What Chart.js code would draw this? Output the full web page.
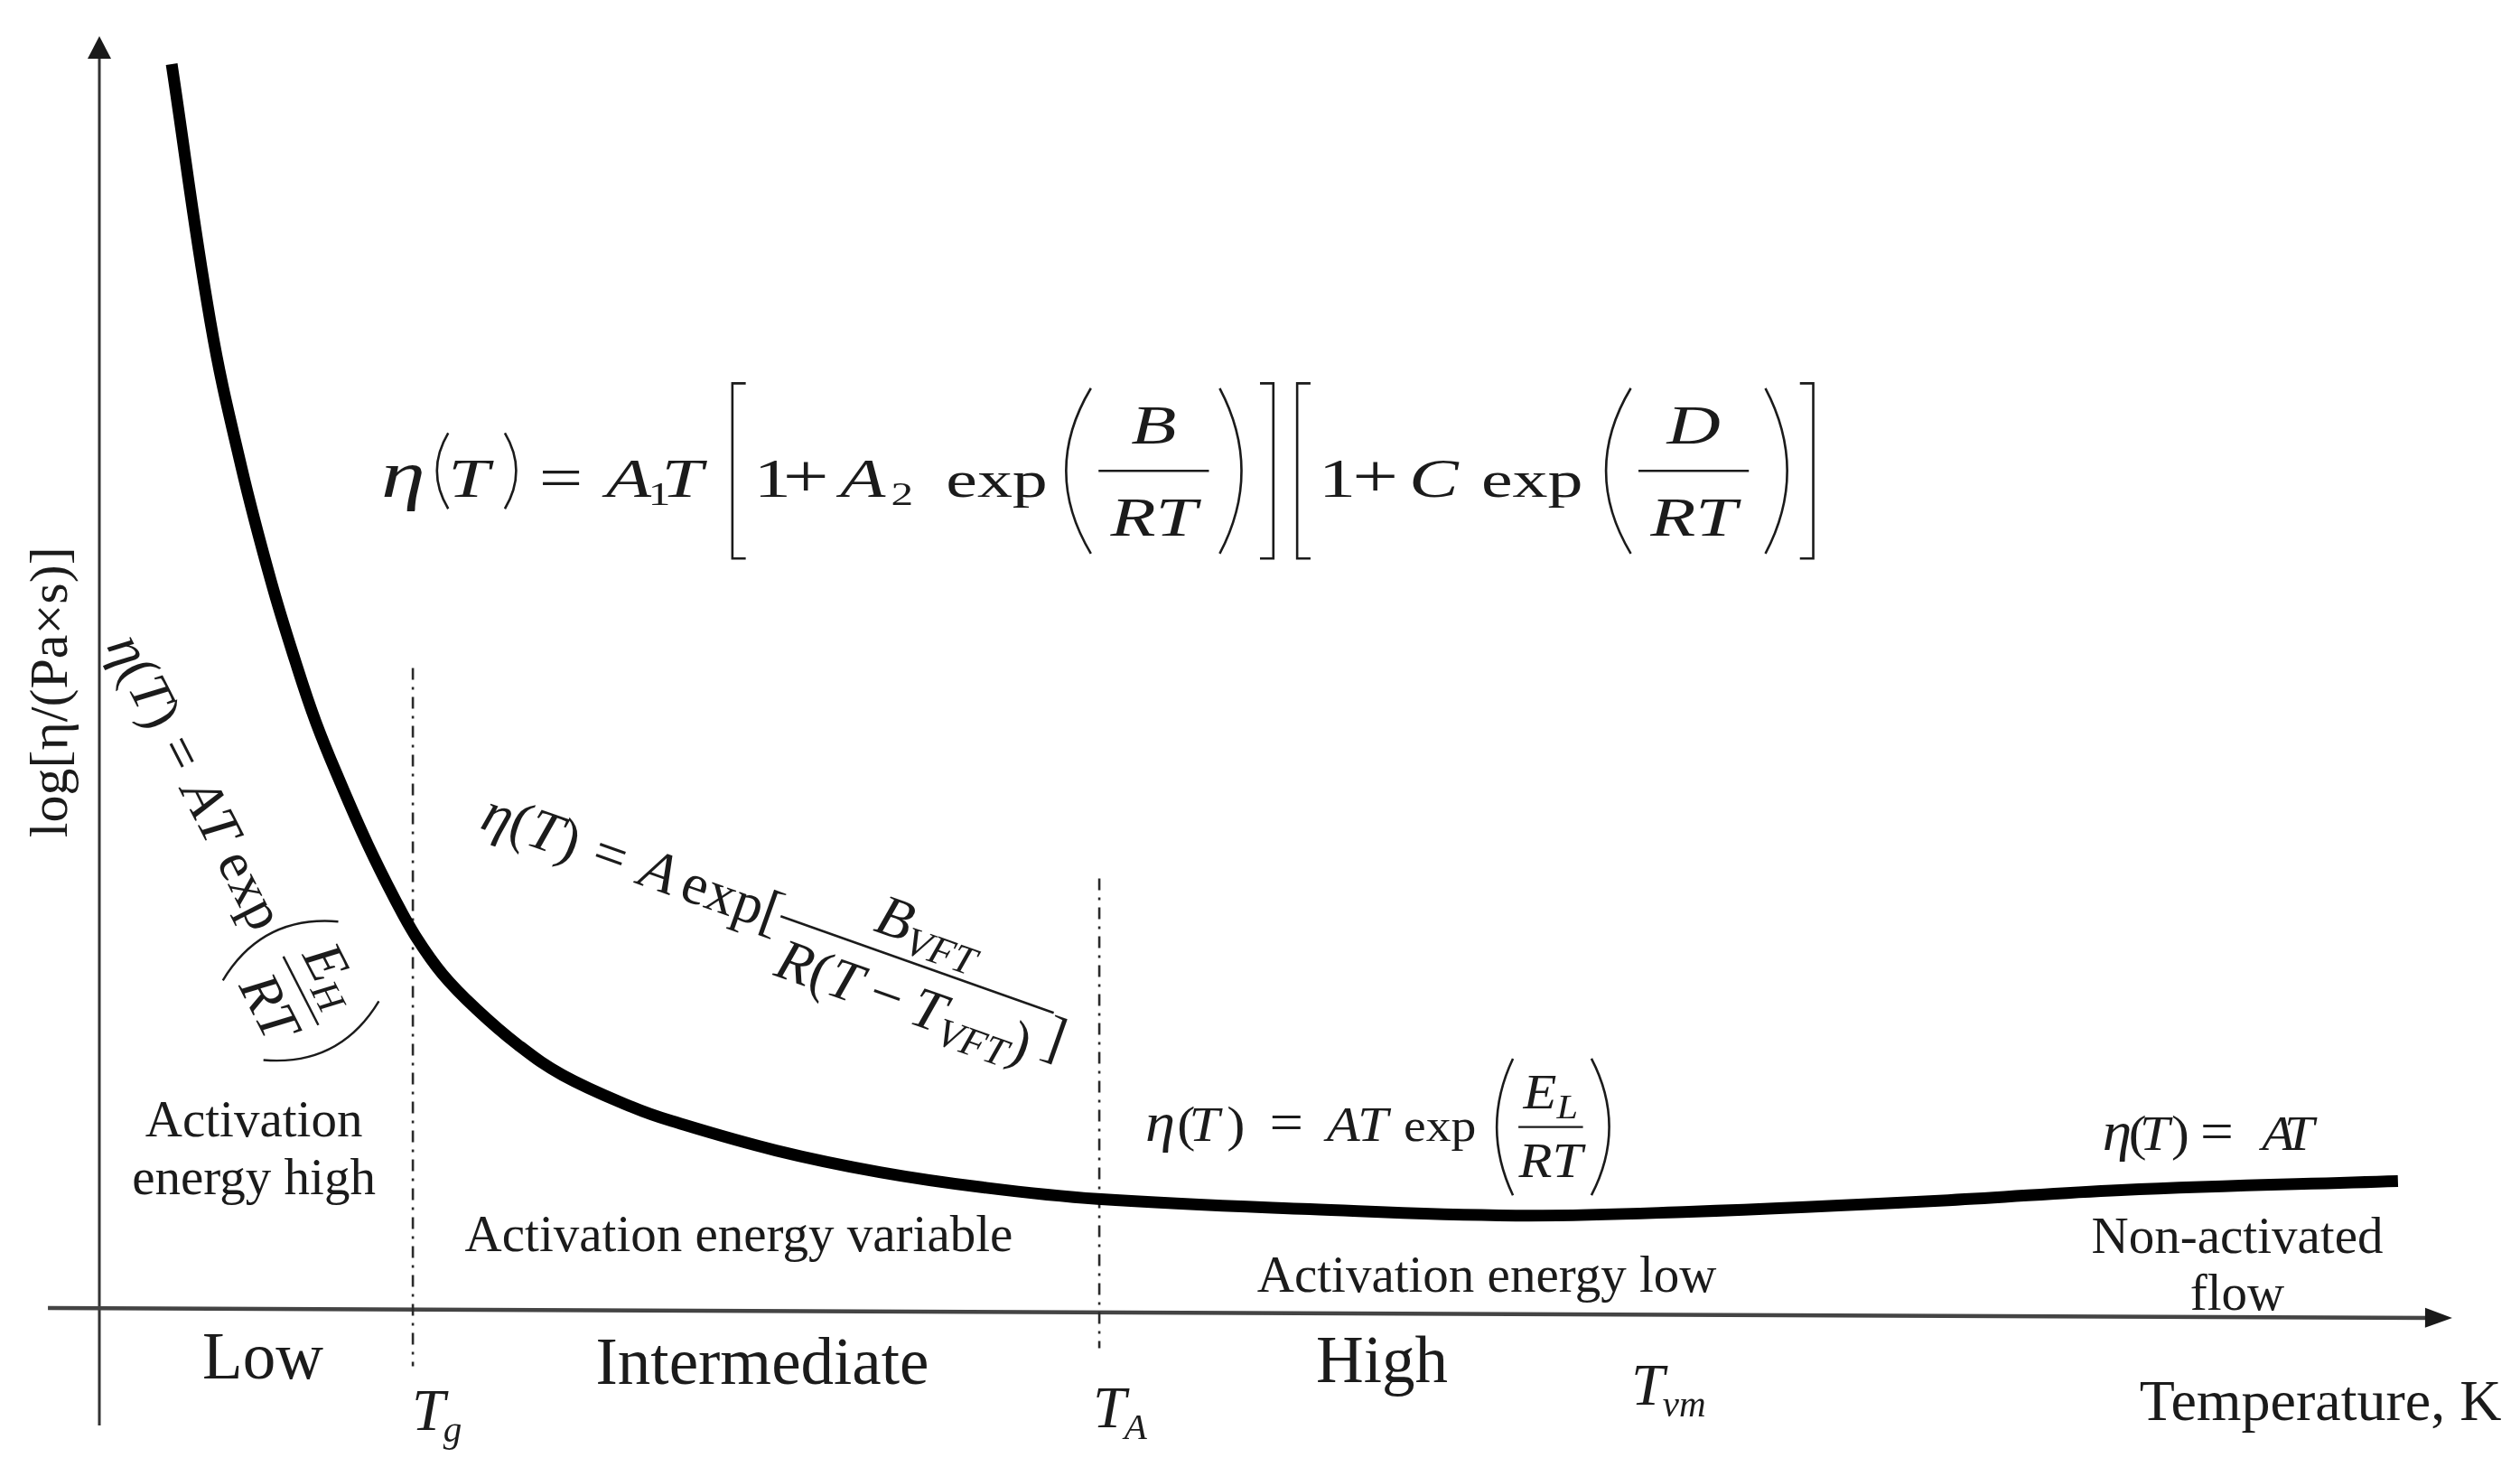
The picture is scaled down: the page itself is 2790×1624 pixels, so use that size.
<!DOCTYPE html>
<html>
<head>
<meta charset="utf-8">
<script src="https://cdn.jsdelivr.net/npm/chart.js@4.4.1/dist/chart.umd.min.js"></script>
<style>
html,body{margin:0;padding:0;background:#fff;overflow:hidden}
#wrap{width:2790px;height:1624px;position:relative;background:#fff}
</style>
</head>
<body>
<div id="wrap"><canvas id="c" width="2790" height="1624"></canvas></div>
<script>
// ---------------- data (schematic units) ----------------
const curveT      = [3.08, 4.73, 6.04, 7.31, 8.35, 9.23, 10.27, 11.42, 12.58, 13.46, 14.62, 16.04, 17.81, 19.73, 22.69, 24.38, 28.81, 33.23, 37.65, 42.5, 51.54, 60.31, 67.69, 78.73, 86.08, 97.88];
const curveLogEta = [97.8, 77.6, 66.3, 57.3, 51.0, 46.2, 41.5, 36.7, 32.4, 29.5, 26.5, 23.8, 21.0, 18.6, 16.1, 15.0, 12.7, 11.0, 9.8, 8.9, 8.1, 7.6, 7.9, 8.8, 9.6, 10.3];
const boundaryT      = [13.35, 42.58];
const boundaryTop    = [50.5, 34.0];
const boundaryBottom = [-4.2, -2.8];
const boundaryLabels = [['T', 'g'], ['T', 'A']];
const vmLabel        = ['T', 'vm'];
const regimeNames    = ['Low', 'Intermediate', 'High'];
const activationNotes = [['Activation', 'energy high'], ['Activation energy variable'], ['Activation energy low'], ['Non-activated', 'flow']];
const xTitle = 'Temperature, K';
const yTitle = 'log[η/(Pa×s)]';

// ---------------- layout / style ----------------
const SERIF = '"Liberation Serif","Times New Roman",serif';
const INK = '#1b1b1b';
const LAYOUT = {
  yAxis: {x: 0, from: -8.85, to: 100},
  xAxis: {from: [-2.19, 0.35], to: [100.19, -0.42]},
  regimePos: [[6.96, -5.17], [28.23, -5.59], [54.62, -5.45]], regimeSize: 73,
  notePos: [[6.58, 13.8, 9.27], [27.23, 4.81], [59.08, 1.63], [91.04, 4.67, 0.21]], noteSize: 57,
  boundaryLabelPos: [[13.31, -9.2], [42.31, -8.99]], vmPos: [65.23, -7.22], tSize: 66,
  xTitlePos: [94.58, -8.42], xTitleSize: 64,
  yTitlePos: [-2.0, 48.6], yTitleSize: 60
};

// math formulas (text layout)
const FORMULAS = [
  { // general formula at top
    pos: [12.0, 63.9], size: 64, glyph: 0.95, sx: 1.35, axis: 0.45, delimLW: 2.6,
    tokens: [
      {at: 0, t: 'η', it: 1, k: 1.2},
      {at: 0.92, d: '(', h: 1.31, w: 0.3},
      {at: 1.16, t: 'T', it: 1},
      {at: 2.08, d: ')', h: 1.31, w: 0.3},
      {at: 2.73, t: '=', k: 1.05},
      {at: 3.89, t: 'A', it: 1},
      {at: 4.62, t: '1', k: 0.6, dy: 0.14},
      {at: 4.85, t: 'T', it: 1},
      {at: 5.95, d: '[', h: 3.03, w: 0.42},
      {at: 6.45, t: '1'},
      {at: 6.95, t: '+', k: 1.1},
      {at: 7.94, t: 'A', it: 1},
      {at: 8.82, t: '2', k: 0.6, dy: 0.14},
      {at: 9.77, t: 'exp', k: 0.95},
      {at: 11.75, d: '(', h: 2.86, w: 0.66},
      {at: 12.41, frac: [[{t: 'B', it: 1}], [{t: 'RT', it: 1}]], w: 1.91, k: 1.0, nGap: 0.48, dGap: 1.12},
      {at: 14.39, d: ')', h: 2.86, w: 0.58},
      {at: 15.14, d: ']', h: 3.03, w: 0.42},
      {at: 15.72, d: '[', h: 3.03, w: 0.42},
      {at: 16.22, t: '1'},
      {at: 16.80, t: '+', k: 1.1},
      {at: 17.78, t: 'C', it: 1},
      {at: 19.03, t: 'exp', k: 0.95},
      {at: 21.09, d: '(', h: 2.86, w: 0.66},
      {at: 21.75, frac: [[{t: 'D', it: 1}], [{t: 'RT', it: 1}]], w: 1.91, k: 1.0, nGap: 0.48, dGap: 1.12},
      {at: 23.83, d: ')', h: 2.86, w: 0.58},
      {at: 24.48, d: ']', h: 3.03, w: 0.42}
    ]
  },
  { // high temperature formula
    pos: [44.54, 13.45], size: 55, glyph: 1, sx: 1.1, axis: 0.28, delimLW: 2.6,
    tokens: [
      {at: 0.0, t: 'η', it: 1, k: 1.1},
      {at: 0.64, t: '('},
      {at: 0.88, t: 'T', it: 1},
      {at: 1.64, t: ')'},
      {at: 2.5, t: '=', k: 1.1},
      {at: 3.65, t: 'A', it: 1},
      {at: 4.27, t: 'T', it: 1},
      {at: 5.2, t: 'exp', k: 0.92},
      {at: 7.0, d: '(', h: 2.75, w: 0.5},
      {at: 7.51, frac: [[{t: 'E', it: 1}, {t: 'L', it: 1, k: 0.7, dy: 0.2}], [{t: 'RT', it: 1}]], w: 1.3, nGap: 0.38, dGap: 1.0},
      {at: 8.87, d: ')', h: 2.75, w: 0.55}
    ]
  },
  { // non-activated flow
    pos: [85.23, 12.74], size: 55, glyph: 1, sx: 1.08, axis: 0.28,
    tokens: [
      {at: 0.03, t: 'η', it: 1, k: 1.1}, {at: 0.56, t: '('}, {at: 0.78, t: 'T', it: 1}, {at: 1.42, t: ')'},
      {at: 2.0, t: '=', k: 1.1}, {at: 3.24, t: 'A', it: 1}, {at: 3.69, t: 'T', it: 1}
    ]
  },
  { // low temperature (rotated)
    pos: [0.29, 52.23], size: 56, glyph: 1, axis: 0.3, angle: 63, fit: 515, delimLW: 2.4,
    tokens: [
      {t: 'η', it: 1}, {t: '('}, {t: 'T', it: 1}, {t: ')'}, {sp: 0.3}, {t: '='}, {sp: 0.3},
      {t: 'A', it: 1}, {t: 'T', it: 1}, {sp: 0.25}, {t: 'exp'}, {sp: 0.05},
      {d: '(', h: 2.3, w: 0.55},
      {frac: [[{t: 'E', it: 1}, {t: 'H', it: 1, k: 0.7, dy: 0.15}], [{t: 'RT', it: 1}]], pad: 0.1, nGap: 0.3, dGap: 0.95},
      {d: ')', h: 2.3, w: 0.55}
    ]
  },
  { // VFT (rotated)
    pos: [16.15, 37.99], size: 58, glyph: 1, axis: 0.3, angle: 19.5, fit: 690,
    tokens: [
      {t: 'η', it: 1}, {t: '('}, {t: 'T', it: 1}, {t: ')'}, {sp: 0.3}, {t: '='}, {sp: 0.3},
      {t: 'A', it: 1}, {sp: 0.15}, {t: 'exp'}, {t: '['},
      {frac: [[{t: 'B', it: 1}, {t: 'VFT', it: 1, k: 0.7, dy: 0.18}],
              [{t: 'R', it: 1}, {t: '('}, {t: 'T', it: 1}, {sp: 0.2}, {t: '−'}, {sp: 0.2}, {t: 'T', it: 1}, {t: 'VFT', it: 1, k: 0.7, dy: 0.18}, {t: ')'}]],
       pad: 0.2, nGap: 0.3, dGap: 1.0},
      {t: ']', dy: 0.42}
    ]
  }
];

function drawDelim(ctx, d, x, ay, w, h, lw) {
  const top = ay - h / 2, bot = ay + h / 2;
  ctx.save();
  ctx.lineWidth = lw;
  ctx.beginPath();
  if (d === '(' || d === ')') {
    const inner = d === '(' ? x + 0.8 * w : x + 0.2 * w;
    const outer = d === '(' ? x + 0.15 * w : x + 0.85 * w;
    const c = 2 * outer - inner;
    ctx.moveTo(inner, top);
    ctx.quadraticCurveTo(c, ay, inner, bot);
  } else {
    const inner = d === '[' ? x + 0.85 * w : x + 0.15 * w;
    const outer = d === '[' ? x + 0.3 * w : x + 0.7 * w;
    ctx.moveTo(inner, top); ctx.lineTo(outer, top); ctx.lineTo(outer, bot); ctx.lineTo(inner, bot);
  }
  ctx.stroke();
  ctx.restore();
}

function drawMath(ctx, f, toks, x, y, size, draw) {
  let cx = x;
  const g = f.glyph || 1, sx = f.sx || 1;
  for (const tk of toks) {
    if (tk.at != null) cx = x + tk.at * size;
    if (tk.sp != null) { cx += tk.sp * size; continue; }
    if (tk.t != null) {
      const fs = size * g * (tk.k || 1);
      ctx.font = (tk.it ? 'italic ' : '') + fs.toFixed(2) + 'px ' + SERIF;
      if (draw) {
        ctx.save();
        ctx.translate(cx, y + (tk.dy || 0) * size);
        ctx.scale(sx, 1);
        ctx.fillText(tk.t, 0, 0);
        ctx.restore();
      }
      cx += ctx.measureText(tk.t).width * sx;
    } else if (tk.frac) {
      const fsz = size * (tk.k || 1);
      const wn = drawMath(ctx, f, tk.frac[0], 0, 0, fsz, false);
      const wd = drawMath(ctx, f, tk.frac[1], 0, 0, fsz, false);
      const w = tk.w != null ? tk.w * size : Math.max(wn, wd) + 2 * (tk.pad || 0.08) * size;
      const ay = y - f.axis * size;
      if (draw) {
        drawMath(ctx, f, tk.frac[0], cx + (w - wn) / 2, ay - tk.nGap * size, fsz, true);
        drawMath(ctx, f, tk.frac[1], cx + (w - wd) / 2, ay + tk.dGap * size, fsz, true);
        ctx.save();
        ctx.lineWidth = Math.max(2, 0.04 * size);
        ctx.beginPath(); ctx.moveTo(cx, ay); ctx.lineTo(cx + w, ay); ctx.stroke();
        ctx.restore();
      }
      cx += w;
    } else if (tk.d) {
      const w = tk.w * size, h = tk.h * size, ay = y - f.axis * size;
      if (draw) drawDelim(ctx, tk.d, cx, ay, w, h, f.delimLW || 2.5);
      cx += w;
    }
  }
  return cx - x;
}

function serifFont(size, italic) { return (italic ? 'italic ' : '') + size + 'px ' + SERIF; }

const axesPlugin = {
  id: 'axesArrows',
  beforeDatasetsDraw(chart) {
    const {ctx, scales: {x, y}} = chart;
    const X = v => x.getPixelForValue(v), Y = v => y.getPixelForValue(v);
    const L = LAYOUT;
    ctx.save();
    const yx = X(L.yAxis.x), yTip = Y(L.yAxis.to);
    ctx.strokeStyle = '#333'; ctx.lineWidth = 3;
    ctx.beginPath(); ctx.moveTo(yx, Y(L.yAxis.from)); ctx.lineTo(yx, yTip + 20); ctx.stroke();
    ctx.fillStyle = '#1a1a1a';
    ctx.beginPath(); ctx.moveTo(yx, yTip); ctx.lineTo(yx - 13, yTip + 25); ctx.lineTo(yx + 13, yTip + 25); ctx.closePath(); ctx.fill();
    const x0 = X(L.xAxis.from[0]), y0 = Y(L.xAxis.from[1]);
    const x1 = X(L.xAxis.to[0]), y1 = Y(L.xAxis.to[1]);
    const ang = Math.atan2(y1 - y0, x1 - x0);
    ctx.strokeStyle = '#444'; ctx.lineWidth = 4.5;
    ctx.beginPath(); ctx.moveTo(x0, y0); ctx.lineTo(x1 - 22 * Math.cos(ang), y1 - 22 * Math.sin(ang)); ctx.stroke();
    ctx.save(); ctx.translate(x1, y1); ctx.rotate(ang);
    ctx.beginPath(); ctx.moveTo(0, 0); ctx.lineTo(-30, -11); ctx.lineTo(-30, 11); ctx.closePath(); ctx.fill();
    ctx.restore();
    ctx.restore();
  }
};

const notesPlugin = {
  id: 'notes',
  afterDatasetsDraw(chart) {
    const {ctx, scales: {x, y}} = chart;
    const X = v => x.getPixelForValue(v), Y = v => y.getPixelForValue(v);
    const L = LAYOUT;
    ctx.save();
    ctx.fillStyle = INK; ctx.strokeStyle = INK; ctx.textBaseline = 'alphabetic';

    ctx.textAlign = 'center';
    ctx.font = serifFont(L.regimeSize);
    regimeNames.forEach((s, i) => ctx.fillText(s, X(L.regimePos[i][0]), Y(L.regimePos[i][1])));

    ctx.font = serifFont(L.noteSize);
    activationNotes.forEach((lines, i) => {
      const p = L.notePos[i];
      lines.forEach((s, j) => ctx.fillText(s, X(p[0]), Y(p[1 + j])));
    });

    ctx.font = serifFont(L.xTitleSize);
    ctx.fillText(xTitle, X(L.xTitlePos[0]), Y(L.xTitlePos[1]));

    ctx.save();
    ctx.translate(X(L.yTitlePos[0]), Y(L.yTitlePos[1]));
    ctx.rotate(-Math.PI / 2);
    ctx.font = serifFont(L.yTitleSize);
    ctx.textBaseline = 'middle';
    ctx.fillText(yTitle, 0, 0);
    ctx.restore();

    ctx.textAlign = 'left';
    const drawSubT = (lab, p) => {
      const px = X(p[0]), py = Y(p[1]);
      ctx.font = serifFont(L.tSize, true);
      ctx.fillText(lab[0], px, py);
      const w = ctx.measureText(lab[0]).width;
      ctx.font = serifFont(Math.round(L.tSize * 0.62), true);
      ctx.fillText(lab[1], px + w - 2, py + L.tSize * 0.2);
    };
    boundaryLabels.forEach((lab, i) => drawSubT(lab, L.boundaryLabelPos[i]));
    drawSubT(vmLabel, L.vmPos);

    FORMULAS.forEach(f => {
      let size = f.size;
      if (f.fit) {
        const wn = drawMath(ctx, f, f.tokens, 0, 0, size, false);
        size = size * f.fit / wn;
      }
      ctx.save();
      ctx.translate(X(f.pos[0]), Y(f.pos[1]));
      if (f.angle) ctx.rotate(f.angle * Math.PI / 180);
      drawMath(ctx, f, f.tokens, 0, 0, size, true);
      ctx.restore();
    });
    ctx.restore();
  }
};

const datasets = [{
  data: curveT.map((t, i) => ({x: t, y: curveLogEta[i]})),
  showLine: true, borderColor: '#000', borderWidth: 13, pointRadius: 0,
  cubicInterpolationMode: 'default', tension: 0.4, borderCapStyle: 'butt', borderJoinStyle: 'round',
  fill: false, order: 0, clip: false
}];
boundaryT.forEach((t, i) => datasets.push({
  data: [{x: t, y: boundaryTop[i]}, {x: t, y: boundaryBottom[i]}],
  showLine: true, borderColor: '#2a2a2a', borderWidth: 2.6, borderDash: [13, 8, 3, 8],
  pointRadius: 0, fill: false, order: 1, clip: false
}));

new Chart(document.getElementById('c').getContext('2d'), {
  type: 'scatter',
  data: {datasets},
  options: {
    responsive: false, animation: false, devicePixelRatio: 1, events: [],
    layout: {padding: {left: 6, right: 2, top: 11.74, bottom: 1.4}},
    scales: {
      x: {type: 'linear', min: -4, max: 103, display: false},
      y: {type: 'linear', min: -12, max: 102, display: false}
    },
    plugins: {legend: {display: false}, tooltip: {enabled: false}, title: {display: false}}
  },
  plugins: [axesPlugin, notesPlugin]
});
</script>
</body>
</html>
